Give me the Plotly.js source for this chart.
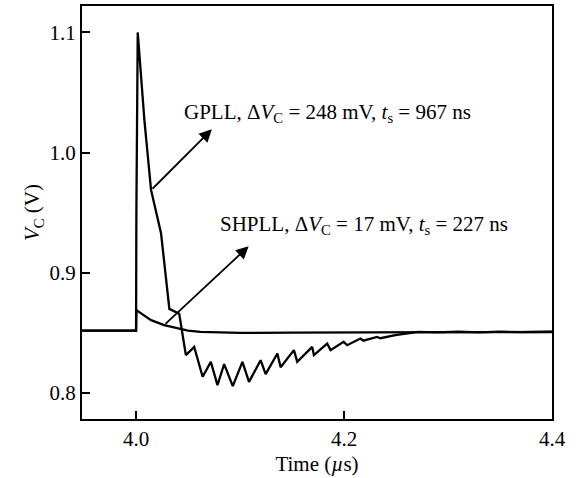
<!DOCTYPE html>
<html>
<head>
<meta charset="utf-8">
<script src="https://cdn.plot.ly/plotly-3.0.1.min.js"></script>
<style>html,body{margin:0;padding:0;background:#fff;}#chart{width:583px;height:478px;}</style>
</head>
<body>
<div id="chart"></div>
<script>
// GPLL control voltage (time in µs, voltage in V)
const gpllTime = [3.948, 4.000, 4.0003, 4.001, 4.0016, 4.008, 4.0144, 4.024, 4.032, 4.0415,
  4.0479, 4.0559, 4.0640, 4.0719, 4.0783, 4.0847, 4.0930, 4.1023, 4.1086, 4.1198,
  4.1246, 4.1359, 4.1390, 4.1518, 4.1550, 4.1694, 4.1710, 4.1838, 4.1870, 4.1997,
  4.2030, 4.2157, 4.2186, 4.2317, 4.2350, 4.2493, 4.2637, 4.2713, 4.29, 4.31, 4.33, 4.35, 4.37, 4.40];
const gpllV = [0.852, 0.852, 0.950, 1.062, 1.100, 1.027, 0.969, 0.933, 0.870, 0.866,
  0.8315, 0.8384, 0.8135, 0.8259, 0.8066, 0.8240, 0.8057, 0.8259, 0.8093, 0.8273,
  0.8157, 0.8329, 0.8215, 0.8357, 0.8259, 0.8384, 0.8315, 0.8412, 0.8357, 0.8426,
  0.8398, 0.8454, 0.8436, 0.8467, 0.8456, 0.8481, 0.8498, 0.8509, 0.8504, 0.8510, 0.8505, 0.8511, 0.8507, 0.8510];
// SHPLL control voltage
const shpllTime = [3.948, 4.000, 4.0003, 4.005, 4.0144, 4.027, 4.040, 4.050, 4.062, 4.080, 4.100, 4.150, 4.200, 4.300, 4.400];
const shpllV = [0.852, 0.852, 0.869, 0.866, 0.8606, 0.8565, 0.8537, 0.8520, 0.8509, 0.8503, 0.8500, 0.8502, 0.8505, 0.8507, 0.8508];

const xTicks = [4.0, 4.2, 4.4];
const yTicks = [0.8, 0.9, 1.0, 1.1];
const xTickText = ['4.0', '4.2', '4.4'];
const yTickText = ['0.8', '0.9', '1.0', '1.1'];

const FONT = 'Liberation Serif, Times New Roman, serif';

const traces = [
  {x: gpllTime, y: gpllV, mode: 'lines', name: 'GPLL', line: {color: '#000', width: 2.3}},
  {x: shpllTime, y: shpllV, mode: 'lines', name: 'SHPLL', line: {color: '#000', width: 2.3}}
];

const layout = {
  width: 583, height: 478,
  margin: {l: 82, r: 31, t: 6, b: 59},
  paper_bgcolor: '#fff', plot_bgcolor: '#fff',
  showlegend: false,
  font: {family: FONT, size: 21, color: '#000'},
  xaxis: {
    range: [3.948, 4.4], tickvals: xTicks, ticktext: xTickText,
    ticks: 'inside', ticklen: 8, tickwidth: 2, tickcolor: '#000',
    showline: true, linecolor: '#000', linewidth: 2, mirror: true,
    showgrid: false, zeroline: false,
    title: {text: 'Time (<i>µ</i>s)', font: {family: FONT, size: 21}, standoff: 6}
  },
  yaxis: {
    range: [0.7784, 1.122], tickvals: yTicks, ticktext: yTickText,
    ticks: 'inside', ticklen: 8, tickwidth: 2, tickcolor: '#000',
    showline: true, linecolor: '#000', linewidth: 2, mirror: true,
    showgrid: false, zeroline: false,
    title: {text: '<i>V</i><sub>C</sub> (V)', font: {family: FONT, size: 21}, standoff: 4}
  },
  annotations: [
    {x: 4.0729, y: 1.0194, ax: 4.0144, ay: 0.9687, axref: 'x', ayref: 'y', xref: 'x', yref: 'y',
     text: '', showarrow: true, arrowhead: 2, arrowsize: 1.4, arrowwidth: 1.8, arrowcolor: '#000'},
    {x: 4.1083, y: 0.9221, ax: 4.0268, ay: 0.8564, axref: 'x', ayref: 'y', xref: 'x', yref: 'y',
     text: '', showarrow: true, arrowhead: 2, arrowsize: 1.4, arrowwidth: 1.8, arrowcolor: '#000'},
    {x: 4.0440, y: 1.0327, xref: 'x', yref: 'y', xanchor: 'left', yanchor: 'middle', showarrow: false,
     text: 'GPLL, Δ<i>V</i><sub>C</sub> = 248 mV, <i>t</i><sub>s</sub> = 967 ns', font: {family: FONT, size: 21}},
    {x: 4.0786, y: 0.9396, xref: 'x', yref: 'y', xanchor: 'left', yanchor: 'middle', showarrow: false,
     text: 'SHPLL, Δ<i>V</i><sub>C</sub> = 17 mV, <i>t</i><sub>s</sub> = 227 ns', font: {family: FONT, size: 21}}
  ]
};

Plotly.newPlot('chart', traces, layout, {displayModeBar: false, staticPlot: true});
</script>
</body>
</html>
